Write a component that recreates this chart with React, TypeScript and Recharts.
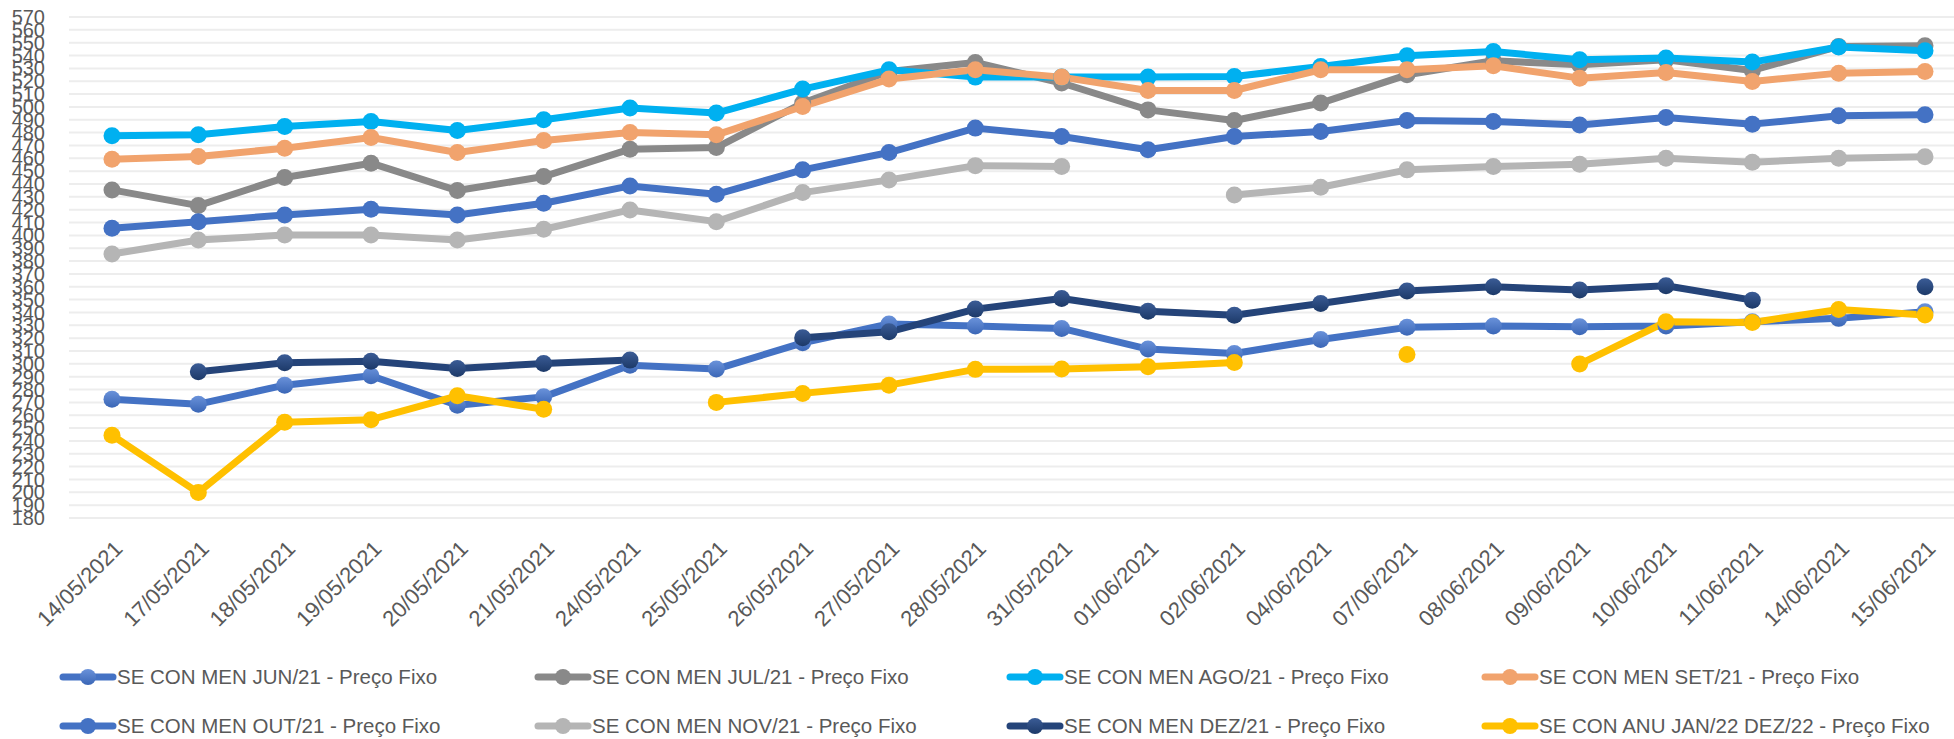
import React from "react";
import { LineChart, Line, XAxis, YAxis, CartesianGrid, Legend } from "recharts";

const dates = [
  "14/05/2021", "17/05/2021", "18/05/2021", "19/05/2021", "20/05/2021", "21/05/2021",
  "24/05/2021", "25/05/2021", "26/05/2021", "27/05/2021", "28/05/2021", "31/05/2021",
  "01/06/2021", "02/06/2021", "04/06/2021", "07/06/2021", "08/06/2021", "09/06/2021",
  "10/06/2021", "11/06/2021", "14/06/2021", "15/06/2021",
];

const jun21 = [272.5, 268.6, 283.4, 290.7, 267.8, 274.3, 299, 295.9, 316.4, 331, 329.4, 327.6, 311.5, 308.1, 319, 328.4, 329.4, 328.9, 329.4, 332.7, 335.4, 340.5];
const jul21 = [435.4, 423.2, 445, 456.2, 434.9, 445.8, 467.1, 468.4, 503, 527.6, 534.6, 518.6, 497.7, 489.4, 503, 525, 536, 532.8, 536.7, 528.4, 547.1, 547.6];
const ago21 = [477.5, 478.3, 484.7, 488.6, 481.6, 490, 499.1, 495.2, 513.9, 528.9, 523.2, 523.2, 523.2, 523.7, 531.5, 539.8, 543.2, 536.7, 538, 534.9, 546.6, 543.7];
const set21 = [459.3, 461.4, 467.9, 476.2, 464.5, 473.8, 480.1, 478.3, 500.3, 521.7, 528.9, 523.2, 512.8, 512.8, 528.9, 528.9, 532, 522.4, 526.8, 519.8, 526.3, 527.6];
const out21 = [405.5, 410.7, 415.9, 420.3, 415.9, 425, 438.5, 432, 451, 464.5, 483.5, 477, 466.6, 477, 480.8, 489.4, 488.6, 486, 491.8, 486.6, 493.1, 493.9];
const nov21 = [385.5, 396.4, 400.3, 400.3, 396.4, 404.8, 419.8, 410.7, 433.3, 443.2, 454.3, 453.6, null, 431.5, 437.5, 451, 453.6, 455.4, 460.1, 457, 460.1, 461.3];
const dez21 = [null, 293.8, 300.8, 302.1, 296.4, 300.3, 302.9, null, 320.3, 324.9, 342.6, 350.9, 341, 337.9, 347, 356.7, 360, 357.4, 360.8, 349.6, null, 360];
const anu22 = [244.4, 199.8, 254.6, 256.5, 275.1, 264.7, null, 270, 277, 283.4, 295.7, 296, 297.7, 301, null, 307.3, null, 299.8, 332.7, 332.2, 342.3, 338];

const yTicks = [
  180, 190, 200, 210, 220, 230, 240, 250, 260, 270, 280, 290, 300, 310, 320, 330, 340, 350, 360, 370,
  380, 390, 400, 410, 420, 430, 440, 450, 460, 470, 480, 490, 500, 510, 520, 530, 540, 550, 560, 570,
];

const series = [
  { key: "jun", name: "SE CON MEN JUN/21 - Preço Fixo", color: "#4472C4", fill: "url(#gJun)" },
  { key: "jul", name: "SE CON MEN JUL/21 - Preço Fixo", color: "#898989", fill: "#898989" },
  { key: "ago", name: "SE CON MEN AGO/21 - Preço Fixo", color: "#00B0F0", fill: "#00B0F0" },
  { key: "set", name: "SE CON MEN SET/21 - Preço Fixo", color: "#F1A36D", fill: "#F1A36D" },
  { key: "out", name: "SE CON MEN OUT/21 - Preço Fixo", color: "#4472C4", fill: "#4472C4" },
  { key: "nov", name: "SE CON MEN NOV/21 - Preço Fixo", color: "#B5B5B5", fill: "#B5B5B5" },
  { key: "dez", name: "SE CON MEN DEZ/21 - Preço Fixo", color: "#254479", fill: "url(#gDez)" },
  { key: "anu", name: "SE CON ANU JAN/22 DEZ/22 - Preço Fixo", color: "#FFC000", fill: "#FFC000" },
];

const data = dates.map((d, i) => ({
  date: d,
  jun: jun21[i],
  jul: jul21[i],
  ago: ago21[i],
  set: set21[i],
  out: out21[i],
  nov: nov21[i],
  dez: dez21[i],
  anu: anu22[i],
}));

const FONT = "'Liberation Sans', Arial, sans-serif";
const TXT = "#595959";

const XTick = ({ x, y, payload }: any) => (
  <g transform={`translate(${x},${y})`}>
    <text
      x={12}
      y={32}
      transform="rotate(-45 12 32)"
      textAnchor="end"
      fill={TXT}
      fontSize={22}
      fontFamily={FONT}
    >
      {payload.value}
    </text>
  </g>
);

// column positions of the 4x2 legend grid
const legendCols = [59, 534, 1006, 1481];
const legendRows = [677, 726];

const LegendBox = () => (
  <svg width={1954} height={90} style={{ display: "block", overflow: "visible" }}>
    {series.map((s, i) => {
      const cx = legendCols[i % 4];
      const cy = legendRows[Math.floor(i / 4)] - 650;
      return (
        <g key={s.key}>
          <line x1={cx + 4} x2={cx + 54} y1={cy} y2={cy} stroke={s.color} strokeWidth={7} strokeLinecap="round" />
          <circle cx={cx + 29} cy={cy} r={8} fill={s.fill} />
          <text x={cx + 58} y={cy} dy="0.35em" fontSize={20.5} fontFamily={FONT} fill={TXT}>
            {s.name}
          </text>
        </g>
      );
    })}
  </svg>
);

export default function App() {
  return (
    <div style={{ position: "absolute", left: 0, top: 0, width: 1954, height: 739, overflow: "hidden", background: "#fff" }}>
      <LineChart width={1968} height={739} data={data} margin={{ top: 17, right: 0, bottom: 0, left: 0 }}>
        <defs>
          <linearGradient id="gJun" x1="0" y1="0" x2="0" y2="1">
            <stop offset="0%" stopColor="#6A92DA" />
            <stop offset="100%" stopColor="#3A66B6" />
          </linearGradient>
          <linearGradient id="gDez" x1="0" y1="0" x2="0" y2="1">
            <stop offset="0%" stopColor="#3B5C96" />
            <stop offset="100%" stopColor="#1C3968" />
          </linearGradient>
        </defs>
        <CartesianGrid vertical={false} stroke="#EDEDED" strokeWidth={2} />
        <XAxis
          dataKey="date"
          interval={0}
          height={221}
          padding={{ left: 43, right: 43 }}
          tickLine={false}
          axisLine={false}
          tickSize={0}
          tickMargin={0}
          tick={<XTick />}
        />
        <YAxis
          width={69}
          domain={[180, 570]}
          ticks={yTicks}
          interval={0}
          allowDataOverflow
          tickLine={false}
          axisLine={false}
          tickMargin={18}
          tick={{ fill: TXT, fontSize: 20, fontFamily: FONT }}
        />
        <Legend
          layout="horizontal"
          verticalAlign="middle"
          wrapperStyle={{ left: 0, top: 650, width: 1954 }}
          content={() => <LegendBox />}
        />
        {series.map((s) => (
          <Line
            key={s.key}
            dataKey={s.key}
            name={s.name}
            stroke={s.color}
            strokeWidth={7}
            strokeLinejoin="round"
            dot={{ r: 8.5, fill: s.fill, stroke: "none", strokeWidth: 0 }}
            activeDot={false}
            isAnimationActive={false}
          />
        ))}
      </LineChart>
    </div>
  );
}
